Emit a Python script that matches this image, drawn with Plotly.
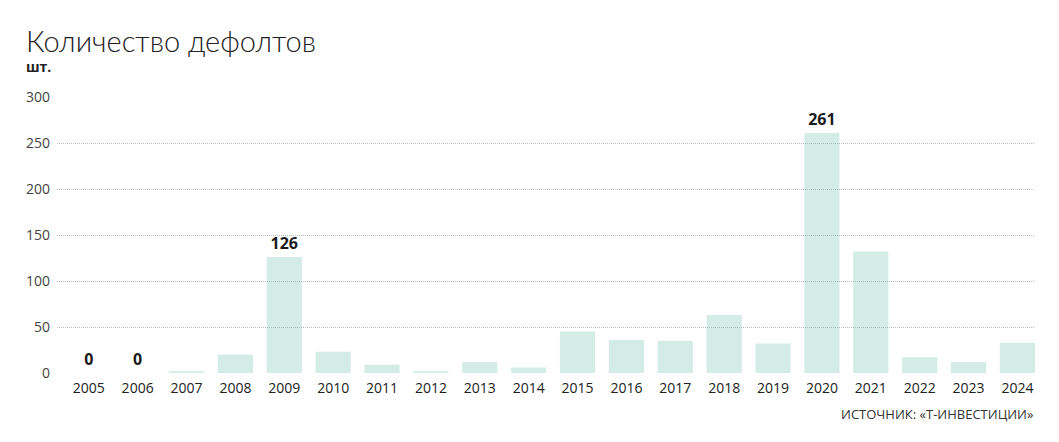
import plotly.graph_objects as go

years = [str(y) for y in range(2005, 2025)]
defaults = [0, 0, 2, 20, 126, 23, 9, 2, 12, 6, 45, 36, 35, 63, 32, 261, 132, 17, 12, 33]
labeled_years = ["2005", "2006", "2009", "2020"]
y_ticks = [0, 50, 100, 150, 200, 250, 300]

labels = [str(v) if y in labeled_years else "" for y, v in zip(years, defaults)]

FONT = "Open Sans"

fig = go.Figure(go.Bar(
    x=years, y=defaults,
    marker=dict(color="rgba(100,190,165,0.284)", line=dict(width=0)),
    text=labels, textposition="outside", cliponaxis=False,
    textfont=dict(family=FONT, size=16, color="#1a1a1a", weight="bold"),
    hoverinfo="x+y",
))

fig.update_layout(
    width=1059, height=442,
    margin=dict(l=57, r=24, t=97, b=69),
    paper_bgcolor="white", plot_bgcolor="white",
    bargap=0.28,
    showlegend=False,
    font=dict(family=FONT, color="#222"),
    xaxis=dict(
        type="category", range=[-0.65, 19.36],
        showgrid=False, zeroline=False, showline=False,
        ticks="", ticklabelstandoff=5,
        tickfont=dict(size=14, color="#222"),
    ),
    yaxis=dict(
        range=[0, 300], tickvals=y_ticks,
        showgrid=True, gridcolor="#bdbdbd", griddash="1px,1px", gridwidth=1,
        zeroline=False, showline=False, ticks="",
        ticklabelstandoff=6,
        tickfont=dict(size=14, color="#444"),
    ),
    annotations=[
        dict(text="Количество дефолтов", xref="paper", yref="paper",
             x=-33/978, y=1 + 37/276, xanchor="left", yanchor="bottom",
             showarrow=False, font=dict(family="Lato, Open Sans", size=29, color="#222", weight=300)),
        dict(text="<b>шт.</b>", xref="paper", yref="paper",
             x=-33/978, y=1 + 19/276, xanchor="left", yanchor="bottom",
             showarrow=False, font=dict(family=FONT, size=14, color="#222")),
        dict(text="ИСТОЧНИК: «Т-ИНВЕСТИЦИИ»", xref="paper", yref="paper",
             x=1, y=-30/276, xanchor="right", yanchor="top",
             showarrow=False, font=dict(family=FONT, size=13, color="#333")),
    ],
)

fig.write_html("out.html")
